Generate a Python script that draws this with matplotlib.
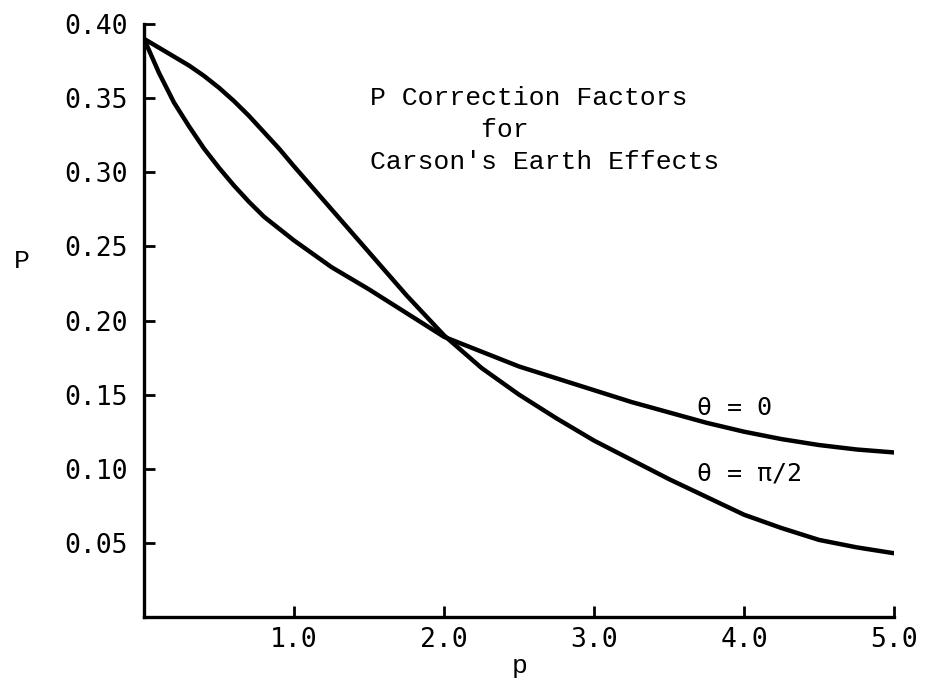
import matplotlib
matplotlib.use("Agg")
import matplotlib.pyplot as plt

# Data
x_theta0 = [0.0, 0.1, 0.2, 0.3, 0.4, 0.5, 0.6, 0.7, 0.8, 0.9, 1.0, 1.25, 1.5,
            1.75, 2.0, 2.25, 2.5, 2.75, 3.0, 3.25, 3.5, 3.75, 4.0, 4.25, 4.5, 4.75, 5.0]
y_theta0 = [0.390, 0.367, 0.347, 0.331, 0.316, 0.303, 0.291, 0.280, 0.270, 0.262,
            0.254, 0.236, 0.221, 0.205, 0.189, 0.179, 0.169, 0.161, 0.153, 0.145,
            0.138, 0.131, 0.125, 0.120, 0.116, 0.113, 0.111]

x_theta90 = [0.0, 0.1, 0.2, 0.3, 0.4, 0.5, 0.6, 0.7, 0.8, 0.9, 1.0, 1.25, 1.5,
             1.75, 2.0, 2.25, 2.5, 2.75, 3.0, 3.25, 3.5, 3.75, 4.0, 4.25, 4.5, 4.75, 5.0]
y_theta90 = [0.390, 0.384, 0.378, 0.372, 0.365, 0.357, 0.348, 0.338, 0.327, 0.316,
             0.304, 0.275, 0.246, 0.217, 0.190, 0.168, 0.150, 0.134, 0.119, 0.106,
             0.093, 0.081, 0.069, 0.060, 0.052, 0.047, 0.043]

x_ticks = [1.0, 2.0, 3.0, 4.0, 5.0]
x_tick_labels = ["1.0", "2.0", "3.0", "4.0", "5.0"]
y_ticks = [0.05, 0.10, 0.15, 0.20, 0.25, 0.30, 0.35, 0.40]
y_tick_labels = ["0.05", "0.10", "0.15", "0.20", "0.25", "0.30", "0.35", "0.40"]

title_lines = ["P Correction Factors", "       for", "Carson's Earth Effects"]
label_theta0 = "θ = 0"
label_theta90 = "θ = π/2"

TICK_FONT = "DejaVu Sans Mono"
TYPE_FONT = "Liberation Mono"

fig = plt.figure(figsize=(9.27, 6.83), dpi=100)
ax = fig.add_axes([144 / 927, 1 - 617 / 683, 750 / 927, 593 / 683])

ax.plot(x_theta0, y_theta0, color="black", lw=3.2, solid_capstyle="round",
        solid_joinstyle="round")
ax.plot(x_theta90, y_theta90, color="black", lw=3.2, solid_capstyle="round",
        solid_joinstyle="round")

ax.set_xlim(0, 5.0)
ax.set_ylim(0, 0.40)

for s in ["top", "right"]:
    ax.spines[s].set_visible(False)
for s in ["left", "bottom"]:
    ax.spines[s].set_linewidth(2.4)

ax.set_xticks(x_ticks)
ax.set_xticklabels(x_tick_labels, fontfamily=TICK_FONT, fontsize=19)
ax.set_yticks(y_ticks)
ax.set_yticklabels(y_tick_labels, fontfamily=TICK_FONT, fontsize=19)
ax.tick_params(axis="both", direction="in", length=8, width=2)
ax.tick_params(axis="y", pad=12)
ax.tick_params(axis="x", pad=7)

ax.set_xlabel("p", fontfamily=TYPE_FONT, fontsize=19)
ax.xaxis.set_label_coords(0.501, -0.062)
ax.set_ylabel("P", fontfamily=TYPE_FONT, fontsize=19, rotation=0)
ax.yaxis.set_label_coords(-0.163, 0.58)

title_y = [0.350, 0.3286, 0.307]
for line, yy in zip(title_lines, title_y):
    ax.text(1.507, yy, line, fontfamily=TYPE_FONT, fontsize=19,
            ha="left", va="center")

ax.text(3.687, 0.141, label_theta0, fontfamily=TICK_FONT, fontsize=18,
        ha="left", va="center")
ax.text(3.687, 0.097, label_theta90, fontfamily=TICK_FONT, fontsize=18,
        ha="left", va="center")

fig.savefig("out.png", dpi=100)
